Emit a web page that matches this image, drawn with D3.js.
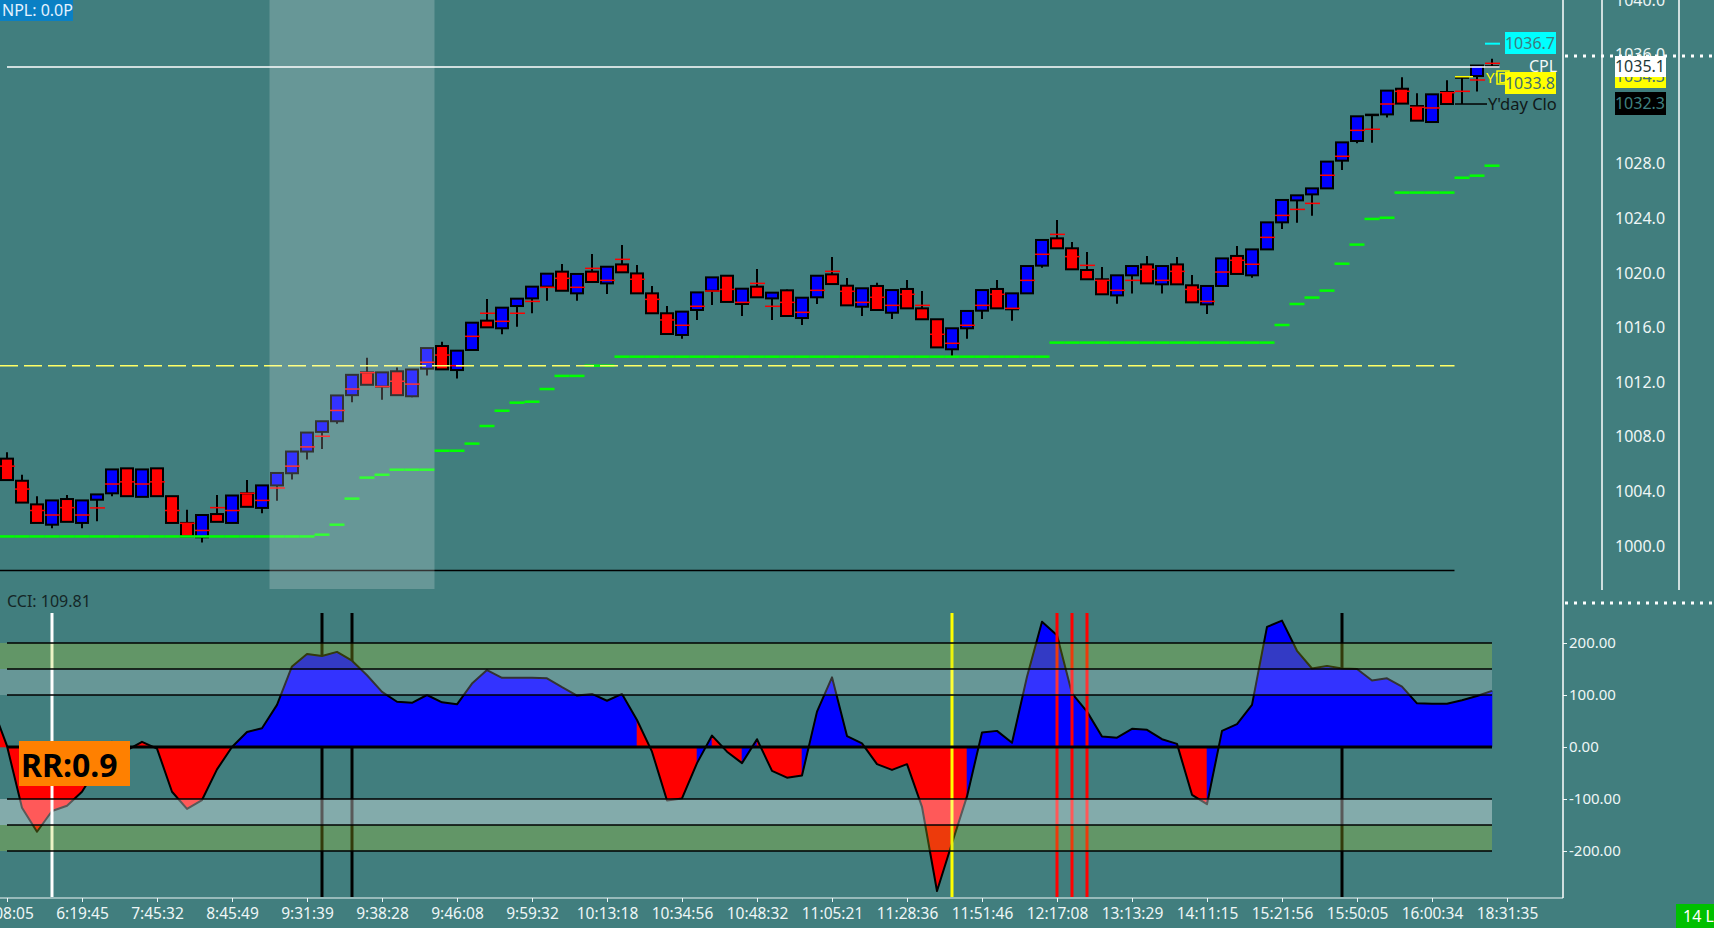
<!DOCTYPE html>
<html>
<head>
<meta charset="utf-8">
<script src="https://cdn.jsdelivr.net/npm/d3@7/dist/d3.min.js"></script>
<style>
  body { margin: 0; background: #417e7e; overflow: hidden; }
  svg { display: block; font-family: "Noto Sans", "Open Sans", sans-serif; }
</style>
</head>
<body>
<script>
// candle data, one entry per bar
const opens = [1006.40,1004.78,1003.05,1001.56,1003.44,1001.69,1003.39,1003.86,1005.69,1003.60,
  1005.69,1003.65,1001.69,1000.64,1002.34,1001.69,1003.86,1002.79,1004.44,1005.33,
  1006.92,1008.36,1009.14,1011.05,1012.72,1011.68,1012.80,1010.97,1012.99,1014.65,
  1012.89,1014.36,1016.51,1015.95,1017.58,1018.14,1019.00,1020.10,1018.51,1020.10,
  1019.24,1020.63,1019.97,1018.51,1017.05,1015.46,1017.29,1018.70,1019.80,1017.73,
  1019.00,1018.14,1018.73,1016.70,1018.22,1019.90,1019.07,1017.53,1019.05,1017.09,
  1018.83,1017.41,1016.61,1014.41,1015.95,1017.24,1018.83,1017.34,1018.51,1020.54,
  1022.54,1021.81,1020.22,1019.54,1018.36,1019.83,1020.63,1019.17,1020.63,1019.10,
  1017.70,1019.05,1021.25,1019.83,1021.73,1023.71,1025.32,1025.76,1026.20,1028.23,
  1029.67,1031.60,1031.62,1033.50,1032.23,1031.06,1033.26,1034.34,1034.43,1035.15]
const highs = [1006.87,1005.22,1003.65,1003.34,1003.73,1003.34,1003.78,1005.61,1005.69,1005.61,
  1005.69,1003.65,1002.66,1002.27,1003.73,1003.70,1004.83,1004.44,1005.35,1006.92,
  1008.31,1009.14,1011.03,1012.54,1013.80,1012.72,1013.07,1012.93,1014.50,1014.97,
  1014.31,1016.36,1018.10,1017.46,1018.12,1019.00,1019.95,1020.66,1019.93,1021.39,
  1020.46,1022.05,1020.59,1019.05,1017.58,1017.17,1018.58,1019.68,1019.80,1018.85,
  1020.29,1018.56,1018.80,1018.19,1019.80,1021.17,1019.63,1018.88,1019.29,1018.75,
  1019.49,1018.68,1016.61,1015.95,1017.22,1018.75,1019.49,1018.51,1020.51,1022.42,
  1023.88,1022.27,1021.54,1020.44,1019.83,1020.51,1021.25,1020.51,1021.17,1019.85,
  1019.05,1021.07,1021.98,1021.73,1023.71,1025.35,1025.69,1026.20,1028.16,1029.57,
  1031.48,1031.60,1033.36,1034.34,1033.16,1033.09,1034.12,1034.34,1035.20,1035.70]
const lows = [1004.83,1003.18,1001.69,1001.30,1001.77,1001.30,1001.82,1003.65,1003.65,1003.60,
  1003.65,1001.69,1000.70,1000.25,1001.77,1001.69,1002.87,1002.40,1003.31,1004.88,
  1006.34,1007.10,1008.96,1010.53,1011.81,1010.71,1011.05,1010.90,1012.49,1012.94,
  1012.28,1014.36,1016.02,1015.51,1016.07,1017.05,1017.97,1018.70,1017.97,1019.34,
  1018.46,1020.05,1018.51,1017.05,1015.53,1015.19,1016.56,1017.66,1017.88,1016.85,
  1018.22,1016.56,1016.85,1016.19,1017.73,1019.19,1017.63,1016.85,1017.29,1016.63,
  1017.41,1016.61,1014.55,1013.92,1015.19,1016.63,1017.41,1016.51,1018.51,1020.39,
  1021.81,1020.27,1019.54,1018.44,1017.75,1018.49,1019.24,1018.49,1019.17,1017.85,
  1017.00,1019.05,1019.93,1019.66,1021.73,1023.22,1023.69,1024.20,1026.20,1027.55,
  1029.50,1029.55,1031.40,1032.41,1031.16,1031.06,1032.38,1032.38,1033.30,1035.15]
const closes = [1004.83,1003.18,1001.69,1003.34,1001.77,1003.34,1003.78,1005.61,1003.65,1005.61,
  1003.65,1001.69,1000.70,1002.27,1001.77,1003.70,1002.87,1004.44,1005.35,1006.92,
  1008.31,1009.14,1011.03,1012.54,1011.81,1012.72,1011.05,1012.93,1014.50,1012.94,
  1014.31,1016.36,1016.02,1017.46,1018.12,1019.00,1019.95,1018.70,1019.93,1019.34,
  1020.46,1020.05,1018.51,1017.05,1015.53,1017.17,1018.58,1019.68,1017.88,1018.85,
  1018.22,1018.56,1016.85,1018.19,1019.80,1019.19,1017.63,1018.88,1017.29,1018.75,
  1017.41,1016.61,1014.55,1015.95,1017.22,1018.75,1017.41,1018.51,1020.51,1022.42,
  1021.81,1020.27,1019.54,1018.44,1019.83,1020.51,1019.24,1020.51,1019.17,1017.85,
  1019.05,1021.07,1019.93,1021.73,1023.71,1025.35,1025.69,1026.20,1028.16,1029.57,
  1031.48,1031.60,1033.36,1032.41,1031.16,1033.09,1032.38,1034.34,1035.20,1035.15]
// red mark drawn across each bar
const midMarks = [1005.85,1004.17,1002.60,1002.27,1002.81,1002.27,1002.79,1004.54,1004.70,1004.54,
  1004.70,1002.60,1001.66,1001.14,1002.81,1002.60,1003.86,1003.34,1004.25,1005.85,
  1007.26,1008.04,1009.93,1011.50,1012.70,1011.68,1012.07,1011.86,1013.46,1013.99,
  1013.21,1015.36,1017.05,1016.46,1017.05,1017.92,1018.95,1019.61,1018.95,1020.34,
  1019.46,1021.00,1019.54,1018.07,1016.56,1016.17,1017.56,1018.68,1018.80,1017.85,
  1019.24,1017.56,1017.85,1017.12,1018.73,1020.12,1018.66,1017.85,1018.22,1017.63,
  1018.44,1017.63,1015.51,1014.85,1016.17,1017.63,1018.44,1017.41,1019.46,1021.37,
  1022.83,1021.20,1020.56,1019.46,1018.73,1019.46,1020.27,1019.46,1020.12,1018.80,
  1017.92,1020.07,1020.93,1020.64,1022.61,1024.22,1024.66,1025.10,1027.16,1028.55,
  1030.45,1030.53,1032.38,1033.31,1032.14,1032.09,1033.21,1033.31,1034.14,1035.36]
// green trailing stop, one value per bar
const trailStop = [1000.70,1000.70,1000.70,1000.70,1000.70,1000.70,1000.70,1000.70,1000.70,1000.70,
  1000.70,1000.70,1000.70,1000.70,1000.70,1000.70,1000.70,1000.70,1000.70,1000.70,
  1000.70,1000.83,1001.56,1003.47,1005.01,1005.22,1005.59,1005.59,1005.59,1006.98,
  1006.98,1007.50,1008.79,1009.91,1010.50,1010.57,1011.50,1012.46,1012.46,1013.21,
  1013.21,1013.87,1013.87,1013.87,1013.87,1013.87,1013.87,1013.87,1013.87,1013.87,
  1013.87,1013.87,1013.87,1013.87,1013.87,1013.87,1013.87,1013.87,1013.87,1013.87,
  1013.87,1013.87,1013.87,1013.87,1013.87,1013.87,1013.87,1013.87,1013.87,1013.87,
  1014.90,1014.90,1014.90,1014.90,1014.90,1014.90,1014.90,1014.90,1014.90,1014.90,
  1014.90,1014.90,1014.90,1014.90,1014.90,1016.19,1017.73,1018.20,1018.71,1020.68,
  1022.08,1023.96,1024.05,1025.89,1025.89,1025.89,1025.89,1026.98,1027.13,1027.86]

// CCI, first value belongs to the bar just left of the chart
const cci = [80,
  2,-117,-163,-123,-113,-86,-40,10,-6,10,
  -3,-86,-119,-102,-43,0,29,36,81,155,
  179,175,183,166,138,106,87,85,100,86,
  82,122,148,133,133,133,132,115,99,102,
  89,102,52,-9,-103,-99,-31,22,-9,-31,
  15,-46,-59,-55,68,134,21,7,-33,-44,
  -33,-115,-277,-185,-95,28,31,8,135,241,
  215,103,68,20,18,35,33,15,6,-92,
  -110,31,44,81,231,243,185,151,156,151,
  150,128,132,116,84,83,83,90,98,108]
// fill colour of the CCI segment ending at each bar: b = blue, r = red
const cciTrend = ('rrrrrrrrbr' + 'rrrrrrbbbb' + 'bbbbbbbbbb' + 'bbbbbbbbbb' + 'bbbrrrrbrr' +
  'brrrbbbbrr' + 'rrrrrbbbbb' + 'bbbbbbbbbr' + 'rbbbbbbbbb' + 'bbbbbbbbbb').split('')
const cciLevels = [200, 150, 100, -100, -150, -200]
const cciTicks = [200, 100, 0, -100, -200]
// vertical signal lines in the CCI pane
const signalBars = [3, 21, 23, 63, 70, 71, 72, 89]
const signalKind = ['w', 'k', 'k', 'y', 'r', 'r', 'r', 'k']

const priceTicks = [1000, 1004, 1008, 1012, 1016, 1020, 1024, 1028, 1032, 1036, 1040]
const timeLabels = ['5:08:05','6:19:45','7:45:32','8:45:49','9:31:39','9:38:28','9:46:08','9:59:32',
  '10:13:18','10:34:56','10:48:32','11:05:21','11:28:36','11:51:46','12:17:08','13:13:29',
  '14:11:15','15:21:56','15:50:05','16:00:34','18:31:35']

const cplLevel = 1035.1
const pivotLevel = 1013.2
const floorLevel = 998.2
const targetLevel = 1036.8
const ydayClose = 1032.38
const ydayOther = 1034.38
const highlightBars = [18, 28]

const W = 1714, H = 928

const svg = d3.select('body').append('svg')
  .attr('width', W)
  .attr('height', H)

const x = d3.scaleLinear().domain([0, 100]).range([7, 1507])
const yP = d3.scaleLinear().domain([1000, 1040]).range([546, 0])
const yC = d3.scaleLinear().domain([-200, 200]).range([851, 643])
const half = 7.5

// ---------- price pane ----------
const price = svg.append('g')
const bars = d3.range(opens.length)

const candle = price.selectAll('g.candle')
  .data(bars)
  .join('g')
    .attr('class', 'candle')

candle.append('line')
  .attr('x1', i => x(i)).attr('x2', i => x(i))
  .attr('y1', i => yP(highs[i])).attr('y2', i => yP(lows[i]))
  .attr('stroke', '#000').attr('stroke-width', 2)

candle.append('rect')
  .attr('x', i => x(i) - 6)
  .attr('y', i => yP(Math.max(opens[i], closes[i])))
  .attr('width', 12)
  .attr('height', i => Math.max(0.5, Math.abs(yP(opens[i]) - yP(closes[i]))))
  .attr('fill', i => closes[i] >= opens[i] ? '#0000ff' : '#ff0000')
  .attr('stroke', '#000').attr('stroke-width', 2)

candle.append('line')
  .attr('x1', i => x(i) - 7).attr('x2', i => x(i) + 8)
  .attr('y1', i => yP(midMarks[i])).attr('y2', i => yP(midMarks[i]))
  .attr('stroke', '#ff0000').attr('stroke-width', 1.5)

// trailing stop steps
price.selectAll('line.stop')
  .data(bars)
  .join('line')
    .attr('class', 'stop')
    .attr('x1', i => x(i) - half).attr('x2', i => x(i) + half)
    .attr('y1', i => yP(trailStop[i])).attr('y2', i => yP(trailStop[i]))
    .attr('stroke', '#00ff00').attr('stroke-width', 2.5)

price.append('line')
  .attr('x1', 0).attr('x2', x(96.5))
  .attr('y1', yP(pivotLevel)).attr('y2', yP(pivotLevel))
  .attr('stroke', '#ffff66').attr('stroke-width', 1.5)
  .attr('stroke-dasharray', '18,6')

price.append('line')
  .attr('x1', 0).attr('x2', x(96.5))
  .attr('y1', yP(floorLevel)).attr('y2', yP(floorLevel))
  .attr('stroke', '#000').attr('stroke-width', 1.5)

price.append('line')
  .attr('x1', 7).attr('x2', x(99.5))
  .attr('y1', yP(cplLevel)).attr('y2', yP(cplLevel))
  .attr('stroke', '#fff').attr('stroke-width', 1.5)

// highlighted session block
price.append('rect')
  .attr('x', x(highlightBars[0] - 0.5))
  .attr('y', 0)
  .attr('width', x(highlightBars[1] + 0.5) - x(highlightBars[0] - 0.5))
  .attr('height', 589)
  .attr('fill', '#fff').attr('opacity', 0.2)

// level tags at the right end
price.append('line')
  .attr('x1', x(99) - 7).attr('x2', x(99) + 8)
  .attr('y1', yP(targetLevel)).attr('y2', yP(targetLevel))
  .attr('stroke', '#00ffff').attr('stroke-width', 2)
price.append('rect').attr('x', 1505).attr('y', 32).attr('width', 51).attr('height', 22).attr('fill', '#00ffff')
price.append('text').attr('x', 1530).attr('y', 49).attr('text-anchor', 'middle')
  .attr('font-size', 16).attr('fill', '#3d7c80').text('1036.7')

price.append('line')
  .attr('x1', x(97) - 7).attr('x2', x(97) + 11)
  .attr('y1', yP(ydayOther)).attr('y2', yP(ydayOther))
  .attr('stroke', '#ffff00').attr('stroke-width', 1.5)
price.append('line')
  .attr('x1', x(97) - 7).attr('x2', x(97) + 25)
  .attr('y1', yP(ydayClose)).attr('y2', yP(ydayClose))
  .attr('stroke', '#000').attr('stroke-width', 1.5)
price.append('text').attr('x', 1486).attr('y', 83)
  .attr('font-size', 15).attr('fill', '#ffff00').text("Y'D")
price.append('rect').attr('x', 1497).attr('y', 71).attr('width', 12).attr('height', 13)
  .attr('fill', 'none').attr('stroke', '#ffff00').attr('stroke-width', 1.5)
price.append('text').attr('x', 1529).attr('y', 72)
  .attr('font-size', 16).attr('fill', '#f4f8f8').text('CPL')
price.append('rect').attr('x', 1505).attr('y', 72).attr('width', 51).attr('height', 22).attr('fill', '#ffff00')
price.append('text').attr('x', 1530).attr('y', 89).attr('text-anchor', 'middle')
  .attr('font-size', 16).attr('fill', '#3f6f70').text('1033.8')
price.append('text').attr('x', 1488).attr('y', 110)
  .attr('font-size', 16.5).attr('fill', '#101818').text("Y'day Clo")

price.append('rect').attr('x', 0).attr('y', 0).attr('width', 73).attr('height', 21).attr('fill', '#0a80c4')
price.append('text').attr('x', 2).attr('y', 16)
  .attr('font-size', 16).attr('fill', '#e4f2ff').text('NPL: 0.0P')

// ---------- CCI pane ----------
const osc = svg.append('g')
const cciIdx = d3.range(-1, 100)
const segs = d3.range(0, 100)
const signalColor = { w: '#ffffff', k: '#000000', y: '#ffff00', r: '#ff0000' }

osc.append('text').attr('x', 7).attr('y', 607)
  .attr('font-size', 16).attr('fill', '#142626').text('CCI: 109.81')

function drawSignals(front) {
  osc.selectAll(null)
    .data(signalBars.filter((b, k) => (signalKind[k] !== 'k') === front))
    .join('line')
      .attr('x1', b => x(b)).attr('x2', b => x(b))
      .attr('y1', 613).attr('y2', 897)
      .attr('stroke', b => signalColor[signalKind[signalBars.indexOf(b)]])
      .attr('stroke-width', 3)
}

drawSignals(false)

const clip = osc.append('clipPath').attr('id', 'cclip')
clip.append('rect').attr('x', 0).attr('y', 600).attr('width', 1563).attr('height', 298)

const area = osc.append('g').attr('clip-path', 'url(#cclip)')
area.selectAll('path')
  .data(segs)
  .join('path')
    .attr('d', i => {
      const x0 = x(i - 1), x1 = x(i)
      const v0 = cci[i], v1 = cci[i + 1]
      return `M${x0},${yC(v0)}L${x1},${yC(v1)}L${x1},${yC(0)}L${x0},${yC(0)}Z`
    })
    .attr('fill', i => cciTrend[i] === 'b' ? '#0000ff' : '#ff0000')
    .attr('stroke', i => cciTrend[i] === 'b' ? '#0000ff' : '#ff0000')
    .attr('stroke-width', 0.6)

drawSignals(true)

// zone bands
const bandDefs = [
  [200, 150, 'rgb(190,215,40)', 0.27],
  [150, 100, '#ffffff', 0.2],
  [-100, -150, '#ffffff', 0.35],
  [-150, -200, 'rgb(190,215,40)', 0.27]
]
osc.selectAll('rect.band')
  .data(bandDefs)
  .join('rect')
    .attr('class', 'band')
    .attr('x', 0)
    .attr('y', d => yC(d[0]))
    .attr('width', x(99) - 0)
    .attr('height', d => yC(d[1]) - yC(d[0]))
    .attr('fill', d => d[2])
    .attr('opacity', d => d[3])

osc.selectAll('line.level')
  .data(cciLevels)
  .join('line')
    .attr('class', 'level')
    .attr('x1', 7).attr('x2', x(99))
    .attr('y1', d => yC(d)).attr('y2', d => yC(d))
    .attr('stroke', '#000').attr('stroke-width', 1.5)

const cciLine = d3.line()
  .x((v, k) => x(cciIdx[k]))
  .y(v => yC(v))
area.append('path')
  .datum(cci)
  .attr('d', cciLine)
  .attr('fill', 'none')
  .attr('stroke', '#000')
  .attr('stroke-width', 2)
  .attr('stroke-linejoin', 'round')

osc.append('line')
  .attr('x1', 7).attr('x2', x(99))
  .attr('y1', yC(0)).attr('y2', yC(0))
  .attr('stroke', '#000').attr('stroke-width', 3)

// RR badge
osc.append('rect').attr('x', 19).attr('y', 741).attr('width', 111).attr('height', 45).attr('fill', '#ff8000')
osc.append('text').attr('x', 21).attr('y', 777)
  .attr('font-size', 32).attr('font-weight', 'bold').attr('fill', '#000').text('RR:0.9')

// ---------- axes and frame ----------
const axisColor = '#eef6f6'

const pAxis = svg.append('g')
  .attr('transform', 'translate(1612,0)')
  .call(d3.axisRight(yP).tickValues(priceTicks).tickSize(0).tickFormat(d3.format('.1f')))
pAxis.select('.domain').remove()
pAxis.selectAll('text').attr('font-size', 16).attr('fill', axisColor)
  .attr('font-family', '"Noto Sans", sans-serif')

const cAxis = svg.append('g')
  .attr('transform', 'translate(1563,0)')
  .call(d3.axisRight(yC).tickValues(cciTicks).tickSize(4).tickFormat(d => d.toFixed(2)))
cAxis.select('.domain').remove()
cAxis.selectAll('line').attr('stroke', axisColor)
cAxis.selectAll('text').attr('font-size', 15).attr('fill', axisColor).attr('x', 6)
  .attr('font-family', '"Noto Sans", sans-serif')

const tAxis = svg.append('g')
  .attr('transform', 'translate(0,898)')
  .call(d3.axisBottom(x).tickValues(d3.range(0, 101, 5)).tickSize(4)
    .tickFormat((d, k) => timeLabels[k]))
tAxis.select('.domain').attr('stroke', axisColor).attr('d', 'M0,0H1563')
tAxis.selectAll('line').attr('stroke', axisColor)
tAxis.selectAll('text').attr('font-size', 15.5).attr('fill', axisColor).attr('dy', '0.9em')
  .attr('font-family', '"Noto Sans", sans-serif')

// right hand frame lines
svg.append('line').attr('x1', 1563).attr('x2', 1563).attr('y1', 0).attr('y2', 898)
  .attr('stroke', '#fff').attr('stroke-width', 1.5)
svg.append('line').attr('x1', 1602).attr('x2', 1602).attr('y1', 0).attr('y2', 590)
  .attr('stroke', '#fff').attr('stroke-width', 1.5)
svg.append('line').attr('x1', 1679).attr('x2', 1679).attr('y1', 0).attr('y2', 590)
  .attr('stroke', '#fff').attr('stroke-width', 1.5)
svg.selectAll('line.dots')
  .data([56, 603])
  .join('line')
    .attr('x1', 1565).attr('x2', W)
    .attr('y1', d => d).attr('y2', d => d)
    .attr('stroke', '#fff').attr('stroke-width', 3).attr('stroke-dasharray', '3,6')

// price tags on the axis
const tags = svg.append('g')
tags.append('rect').attr('x', 1615).attr('y', 66).attr('width', 51).attr('height', 22).attr('fill', '#ffff00')
tags.append('text').attr('x', 1640).attr('y', 82).attr('text-anchor', 'middle')
  .attr('font-size', 16).attr('fill', '#3f6f70').text('1034.3')
tags.append('rect').attr('x', 1615).attr('y', 56).attr('width', 51).attr('height', 21).attr('fill', '#ffffff')
tags.append('text').attr('x', 1640).attr('y', 72).attr('text-anchor', 'middle')
  .attr('font-size', 16).attr('fill', '#1d3a3a').text('1035.1')
tags.append('rect').attr('x', 1615).attr('y', 92).attr('width', 51).attr('height', 23).attr('fill', '#000')
tags.append('text').attr('x', 1640).attr('y', 109).attr('text-anchor', 'middle')
  .attr('font-size', 16).attr('fill', '#3e8080').text('1032.3')

tags.append('rect').attr('x', 1676).attr('y', 904).attr('width', 40).attr('height', 24).attr('fill', '#00c000')
tags.append('text').attr('x', 1683).attr('y', 922)
  .attr('font-size', 16).attr('fill', '#fff').text('14 L')
</script>
</body>
</html>
